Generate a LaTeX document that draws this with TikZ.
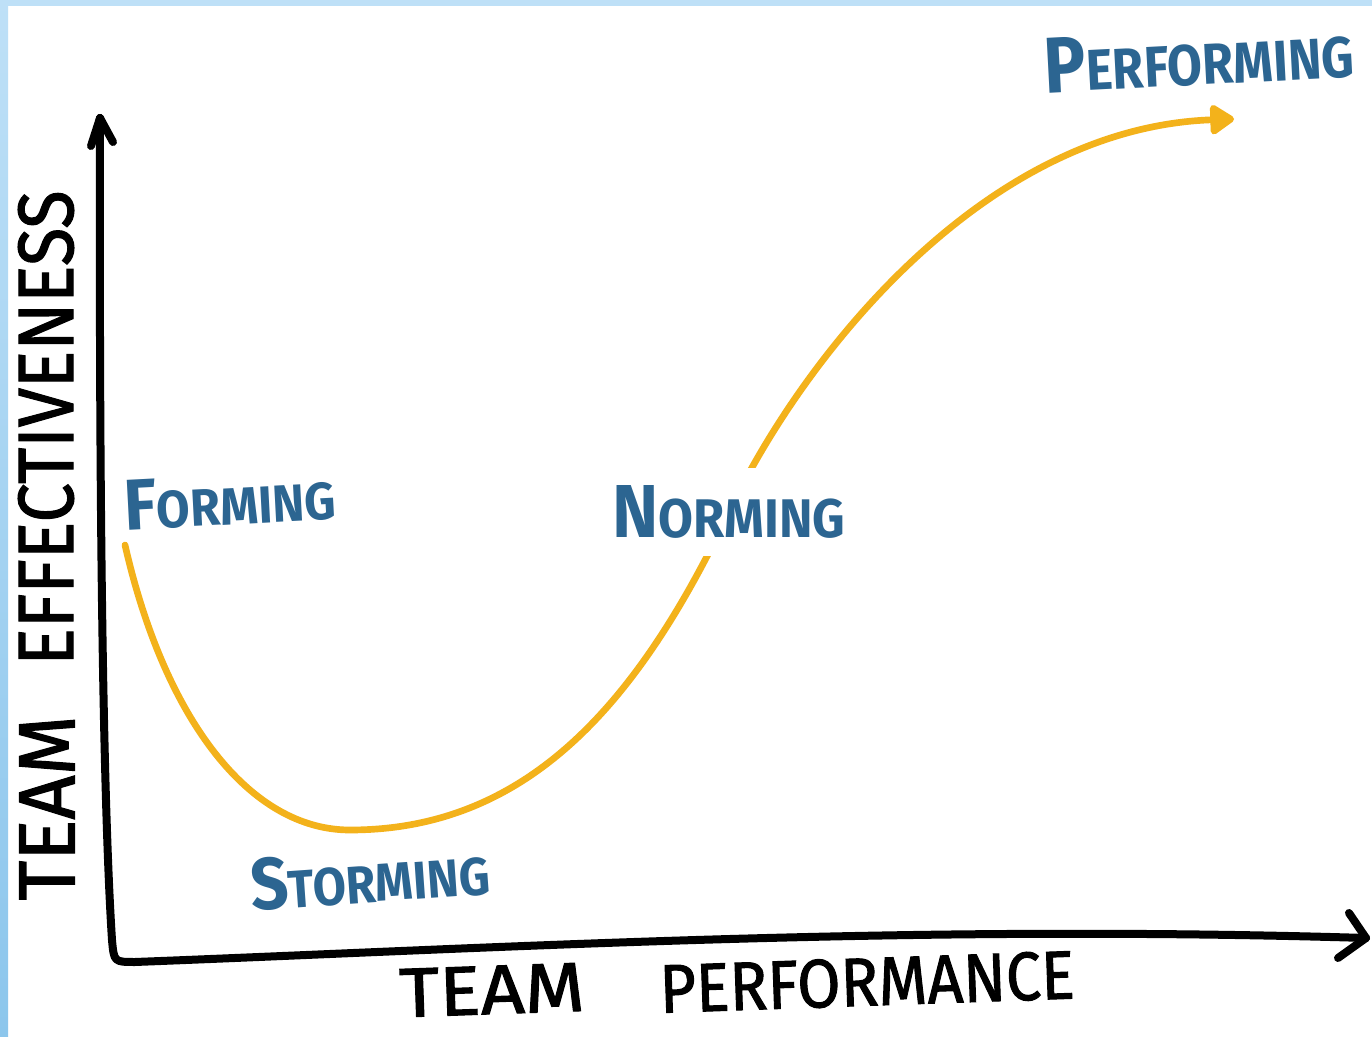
\documentclass[tikz,border=0pt]{standalone}
\usepackage{fontspec}
\setmainfont{Fira Sans}
\usetikzlibrary{arrows.meta}
\definecolor{edgeblue}{HTML}{BEE0F7}
\definecolor{edgeblued}{HTML}{8CC6EC}
\definecolor{labelblue}{HTML}{2C6591}
\definecolor{curveyellow}{HTML}{F3B21B}
\newlength\pxu
\setlength\pxu{0.75pt}
\newcommand\fitbox[3]{\resizebox{#1\pxu}{#2\pxu}{#3}}
\newcommand\hsc[2]{{\fontsize{40}{40}\selectfont #1}{\fontsize{29}{29}\selectfont #2}}
\begin{document}
\begin{tikzpicture}[x=0.75pt,y=-0.75pt,
  axis/.style={line width=6pt,line cap=round,line join=round,black},
  curve/.style={line width=5pt,curveyellow,line cap=round},
  stage/.style={text=labelblue,inner sep=0pt,font=\bfseries},
  axislabel/.style={text=black,inner sep=0pt,font=\addfontfeature{FakeBold=1.5}}]
\useasboundingbox (0,0) rectangle (1372,1037);
\fill[white] (0,0) rectangle (1372,1037);
\shade[top color=edgeblue,bottom color=edgeblued] (0,0) rectangle (8,1037);
\fill[edgeblue] (0,0) rectangle (1372,6);

% axes
\coordinate (ytip) at (100,118);
\coordinate (origin) at (118,962);
\coordinate (xtip) at (1366,938);
\draw[axis] (ytip) .. controls (99,500) and (103,800) .. (112,940)
  .. controls (114,962) .. (135,962)
  .. controls (500,948) and (900,924) .. (xtip);
\draw[axis] (ytip) -- (91,146);
\draw[axis] (ytip) -- (113,142);
\draw[axis] (xtip) -- (1349,913);
\draw[axis] (xtip) -- (1338,958);

% growth curve
\coordinate (cstart) at (125,545);
\coordinate (cmin) at (350,830);
\coordinate (cmid) at (730,510);
\coordinate (cend) at (1234,119);
\draw[curve,-{Triangle[length=20pt,width=25pt,round]}]
  (cstart) .. controls (165,720) and (250,830) .. (cmin)
           .. controls (530,830) and (640,700) .. (cmid)
           .. controls (800,363) and (980,128) .. (cend);

% stage labels
\node[stage,rotate=3] (forming) at (230,500) {\fitbox{212}{50}{\hsc{F}{ORMING}}};
\node[stage,rotate=4] (storming) at (370,877) {\fitbox{240}{52}{\hsc{S}{TORMING}}};
\node[stage,fill=white,inner ysep=13pt,inner xsep=3pt] (norming) at (729,512) {\fitbox{233}{52}{\hsc{N}{ORMING}}};
\node[stage,rotate=3] (performing) at (1199,58) {\fitbox{310}{55}{\hsc{P}{ERFORMING}}};

% axis labels
\node[axislabel,rotate=90] (yteam) at (47,808) {\fitbox{185}{55}{TEAM}};
\node[axislabel,rotate=90] (yeff) at (46,428) {\fitbox{475}{55}{EFFECTIVENESS}};
\node[axislabel,rotate=2] (xteam) at (492,990) {\fitbox{185}{48}{TEAM}};
\node[axislabel,rotate=2] (xperf) at (867,982) {\fitbox{415}{48}{PERFORMANCE}};
\end{tikzpicture}
\end{document}
